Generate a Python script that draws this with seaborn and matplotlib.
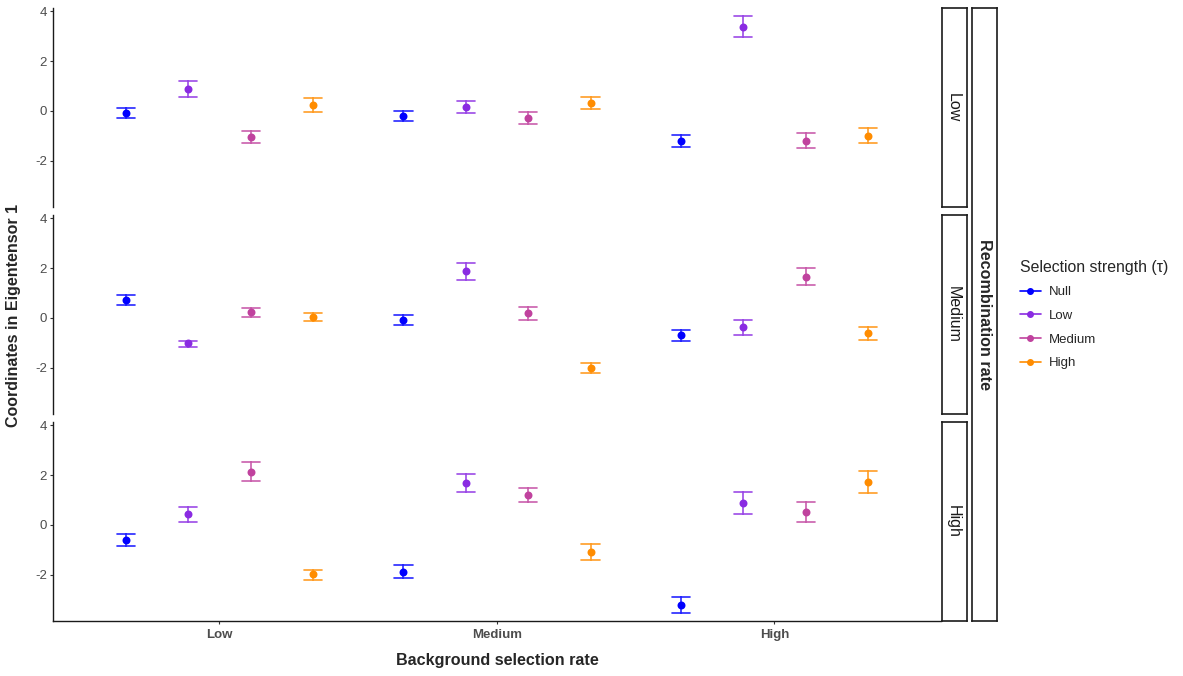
import numpy as np
import pandas as pd
import matplotlib
matplotlib.use("Agg")
import matplotlib.pyplot as plt
from matplotlib.lines import Line2D
import seaborn as sns

# categories
bg_levels = ["Low", "Medium", "High"]          # background selection rate (x)
tau_levels = ["Null", "Low", "Medium", "High"]  # selection strength (hue)
rec_levels = ["Low", "Medium", "High"]          # recombination rate (rows)

# point estimates, one list per recombination rate: [bg][tau]
mean_rec_low = [[-0.08, 0.88, -1.04, 0.24],
                [-0.19, 0.15, -0.28, 0.33],
                [-1.20, 3.39, -1.19, -0.99]]
mean_rec_medium = [[0.72, -1.02, 0.23, 0.05],
                   [-0.08, 1.88, 0.19, -2.01],
                   [-0.69, -0.37, 1.66, -0.61]]
mean_rec_high = [[-0.60, 0.43, 2.15, -1.99],
                 [-1.88, 1.69, 1.20, -1.07],
                 [-3.20, 0.89, 0.52, 1.73]]

# lower / upper ends of the error bars
lower_rec_low = [[-0.28, 0.56, -1.28, -0.04],
                 [-0.40, -0.08, -0.52, 0.09],
                 [-1.45, 2.96, -1.49, -1.28]]
upper_rec_low = [[0.13, 1.21, -0.79, 0.51],
                 [0.01, 0.39, -0.04, 0.57],
                 [-0.95, 3.81, -0.87, -0.68]]
lower_rec_medium = [[0.51, -1.15, 0.05, -0.12],
                    [-0.29, 1.53, -0.07, -2.21],
                    [-0.92, -0.67, 1.33, -0.88]]
upper_rec_medium = [[0.94, -0.91, 0.41, 0.21],
                    [0.13, 2.20, 0.44, -1.79],
                    [-0.47, -0.08, 2.00, -0.35]]
lower_rec_high = [[-0.84, 0.12, 1.75, -2.21],
                  [-2.14, 1.34, 0.92, -1.42],
                  [-3.54, 0.46, 0.12, 1.29]]
upper_rec_high = [[-0.38, 0.74, 2.54, -1.79],
                  [-1.62, 2.04, 1.49, -0.75],
                  [-2.89, 1.32, 0.94, 2.18]]

colors = {"Null": "#0000FF", "Low": "#8A2BE2", "Medium": "#C0429E", "High": "#FF8C00"}

means = [mean_rec_low, mean_rec_medium, mean_rec_high]
lowers = [lower_rec_low, lower_rec_medium, lower_rec_high]
uppers = [upper_rec_low, upper_rec_medium, upper_rec_high]

# long table: each group holds lower, estimate, upper so the median is the point
rows = []
for r, rec in enumerate(rec_levels):
    for b, bg in enumerate(bg_levels):
        for t, tau in enumerate(tau_levels):
            for v in (lowers[r][b][t], means[r][b][t], uppers[r][b][t]):
                rows.append({"rec": rec, "bg": bg, "tau": tau, "value": v})
df = pd.DataFrame(rows)

sns.set_style("ticks")
plt.rcParams["font.family"] = ["Liberation Sans", "DejaVu Sans"]
plt.rcParams["axes.unicode_minus"] = False

W, H = 1183, 676
fig = plt.figure(figsize=(W / 100, H / 100), dpi=100)


def px_rect(x0, y0, x1, y1):
    return [x0 / W, 1 - y1 / H, (x1 - x0) / W, (y1 - y0) / H]


panel_y = [(8, 207), (215, 414), (422, 621)]
for i, rec in enumerate(rec_levels):
    y0, y1 = panel_y[i]
    ax = fig.add_axes(px_rect(53, y0, 941, y1))
    sns.pointplot(data=df[df["rec"] == rec], x="bg", y="value", hue="tau",
                  order=bg_levels, hue_order=tau_levels, palette=colors,
                  estimator="median", errorbar=lambda v: (v.min(), v.max()),
                  dodge=0.675, capsize=0.066, linestyle="none", markers="o",
                  markersize=3.7, err_kws={"linewidth": 1.2, "alpha": 0.85},
                  legend=False, ax=ax)
    ax.set_xlim(-0.6, 2.6)
    ax.set_ylim(-3.86, 4.14)
    ax.set_yticks([-2, 0, 2, 4])
    ax.set_xlabel("")
    ax.set_ylabel("")
    for s in ["top", "right"]:
        ax.spines[s].set_visible(False)
    for s in ["left", "bottom"]:
        ax.spines[s].set_linewidth(1.0)
        ax.spines[s].set_color("#1a1a1a")
    ax.tick_params(axis="y", length=2.5, width=0.8, color="#333333",
                   labelcolor="#4d4d4d", labelsize=9.5, pad=2)
    if i < 2:
        ax.spines["bottom"].set_visible(False)
        ax.tick_params(axis="x", bottom=False, labelbottom=False)
    else:
        ax.tick_params(axis="x", length=2.5, width=0.8, color="#333333",
                       labelcolor="#4d4d4d", labelsize=9.5, pad=3)
        for lab in ax.get_xticklabels():
            lab.set_fontweight("bold")

    # row strip
    strip = fig.add_axes(px_rect(942, y0, 967, y1))
    strip.set_xticks([])
    strip.set_yticks([])
    for s in strip.spines.values():
        s.set_linewidth(1.2)
        s.set_color("#1a1a1a")
    strip.text(0.45, 0.5, rec, rotation=270, ha="center", va="center",
               fontsize=11.5, color="#1a1a1a", transform=strip.transAxes)

# outer strip for the facet variable
outer = fig.add_axes(px_rect(972, 8, 997, 621))
outer.set_xticks([])
outer.set_yticks([])
for s in outer.spines.values():
    s.set_linewidth(1.2)
    s.set_color("#1a1a1a")
outer.text(0.5, 0.5, "Recombination rate", rotation=270, ha="center",
           va="center", fontsize=11.6, fontweight="bold", transform=outer.transAxes)

fig.text(497 / W, 1 - 661 / H, "Background selection rate", ha="center",
         va="center", fontsize=11.6, fontweight="bold")
fig.text(14 / W, 1 - 315 / H, "Coordinates in Eigentensor 1", ha="center",
         va="center", rotation=90, fontsize=11.5, fontweight="bold")

handles = [Line2D([], [], color=colors[t], marker="o", markersize=4,
                  linewidth=1.2) for t in tau_levels]
fig.legend(handles, tau_levels, title="Selection strength (\u03c4)",
           loc="upper left", bbox_to_anchor=(1008 / W, 1 - 248 / H),
           frameon=False, fontsize=9.5, title_fontsize=11.4, handlelength=1.6,
           labelspacing=0.86, alignment="left", handletextpad=0.6)

fig.savefig("out.png", dpi=100)
